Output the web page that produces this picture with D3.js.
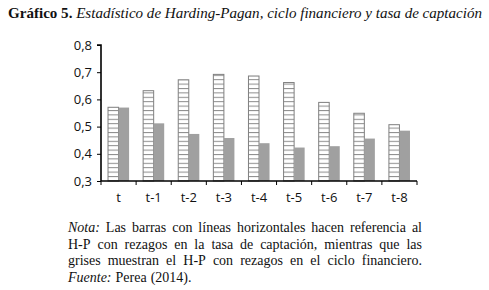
<!DOCTYPE html>
<html>
<head>
<meta charset="utf-8">
<script src="https://cdn.jsdelivr.net/npm/d3@7"></script>
<style>
  body { margin: 0; background: #fff; }
  svg { display: block; }
</style>
</head>
<body>
<div class="chart"></div>
<script>
var categories = ["t", "t-1", "t-2", "t-3", "t-4", "t-5", "t-6", "t-7", "t-8"];
var captacion = [0.571, 0.632, 0.672, 0.692, 0.686, 0.662, 0.589, 0.549, 0.507];
var cicloFin = [0.570, 0.512, 0.473, 0.458, 0.439, 0.423, 0.428, 0.456, 0.485];
var yTicks = [0.3, 0.4, 0.5, 0.6, 0.7, 0.8];
var noteLines = [
  [{t: "Nota:", i: true}, {t: "Las barras con líneas horizontales hacen referencia al"}],
  [{t: "H-P con rezagos en la tasa de captación, mientras que las"}],
  [{t: "grises muestran el H-P con rezagos en el ciclo financiero."}],
  [{t: "Fuente:", i: true}, {t: "Perea (2014)."}]
];

var W = 489, H = 290,
    plot = {left: 101, right: 417, top: 45, bottom: 181};

var svg = d3.select(".chart").append("svg")
  .attr("width", W)
  .attr("height", H);

// hatch pattern for the captacion bars
var defs = svg.append("defs");
var pat = defs.append("pattern")
  .attr("id", "hatch")
  .attr("patternUnits", "userSpaceOnUse")
  .attr("width", 12)
  .attr("height", 4.4);
pat.append("rect").attr("width", 12).attr("height", 4.4).attr("fill", "#fff");
pat.append("line")
  .attr("x1", 0).attr("x2", 12).attr("y1", 0.5).attr("y2", 0.5)
  .attr("stroke", "#8a8a8a").attr("stroke-width", 1);

// title
var title = svg.append("text")
  .attr("x", 8).attr("y", 18)
  .style("font-family", "'Liberation Serif', 'DejaVu Serif', serif")
  .style("font-size", "15px")
  .attr("fill", "#111");
title.append("tspan").style("font-weight", "bold").text("Gráfico 5. ");
title.append("tspan").style("font-style", "italic")
  .text("Estadístico de Harding-Pagan, ciclo financiero y tasa de captación");
title.attr("textLength", 474).attr("lengthAdjust", "spacingAndGlyphs");

var x = d3.scaleBand()
  .domain(categories)
  .range([plot.left, plot.right])
  .paddingInner(0.4)
  .paddingOuter(0.2);

var y = d3.scaleLinear()
  .domain([0.3, 0.8])
  .range([plot.bottom, plot.top]);

var bw = x.bandwidth() / 2;

var bars = svg.append("g");
bars.selectAll(".cap")
  .data(categories)
  .enter().append("rect")
  .attr("class", "cap")
  .attr("x", d => x(d))
  .attr("y", (d, i) => y(captacion[i]))
  .attr("width", bw)
  .attr("height", (d, i) => y(0.3) - y(captacion[i]))
  .attr("fill", "url(#hatch)")
  .attr("stroke", "#7f7f7f")
  .attr("stroke-width", 1);

bars.selectAll(".fin")
  .data(categories)
  .enter().append("rect")
  .attr("class", "fin")
  .attr("x", d => x(d) + bw)
  .attr("y", (d, i) => y(cicloFin[i]))
  .attr("width", bw)
  .attr("height", (d, i) => y(0.3) - y(cicloFin[i]))
  .attr("fill", "#a0a0a0");

// y axis
var yAxis = svg.append("g")
  .attr("transform", `translate(${plot.left},0)`)
  .call(d3.axisLeft(y).tickValues(yTicks).tickSize(4).tickPadding(5)
    .tickFormat(d => d3.format(".1f")(d).replace(".", ",")));

// x axis with ticks between categories
var step = x.step();
var xAxis = svg.append("g")
  .attr("transform", `translate(0,${plot.bottom})`);
xAxis.append("line")
  .attr("x1", plot.left).attr("x2", plot.right)
  .attr("stroke", "#000").attr("stroke-width", 1.6);
xAxis.selectAll(".tk")
  .data(d3.range(categories.length + 1))
  .enter().append("line")
  .attr("x1", i => plot.left + i * step)
  .attr("x2", i => plot.left + i * step)
  .attr("y1", 0).attr("y2", 4)
  .attr("stroke", "#000").attr("stroke-width", 1);
xAxis.selectAll(".lab")
  .data(categories)
  .enter().append("text")
  .attr("x", d => x(d) + x.bandwidth() / 2)
  .attr("y", 21)
  .attr("text-anchor", "middle")
  .text(d => d);

yAxis.select(".domain").attr("stroke-width", 1.6).attr("d", `M-4,${plot.top}H0V${plot.bottom}`);
[yAxis, xAxis].forEach(g => {
  g.selectAll("text")
    .style("font-family", "'Open Sans', 'Noto Sans', sans-serif")
    .style("font-size", "13px")
    .attr("fill", "#111");
});

// note, justified line by line
var noteLeft = 68, noteRight = 422, noteY0 = 232, noteDy = 16.6;
var note = svg.append("g")
  .style("font-family", "'Liberation Serif', 'DejaVu Serif', serif")
  .style("font-size", "14px")
  .attr("fill", "#111");

noteLines.forEach((line, li) => {
  var words = [];
  line.forEach(seg => seg.t.split(" ").forEach(w => words.push({t: w, i: !!seg.i})));
  var nodes = words.map(w => note.append("text")
    .attr("y", noteY0 + li * noteDy)
    .style("font-style", w.i ? "italic" : "normal")
    .text(w.t));
  var widths = nodes.map(n => n.node().getComputedTextLength());
  var total = d3.sum(widths);
  var justify = li < noteLines.length - 1;
  var gap = justify ? (noteRight - noteLeft - total) / (words.length - 1) : 4;
  var cx = noteLeft;
  nodes.forEach((n, k) => {
    n.attr("x", cx);
    cx += widths[k] + gap;
  });
});
</script>
</body>
</html>
